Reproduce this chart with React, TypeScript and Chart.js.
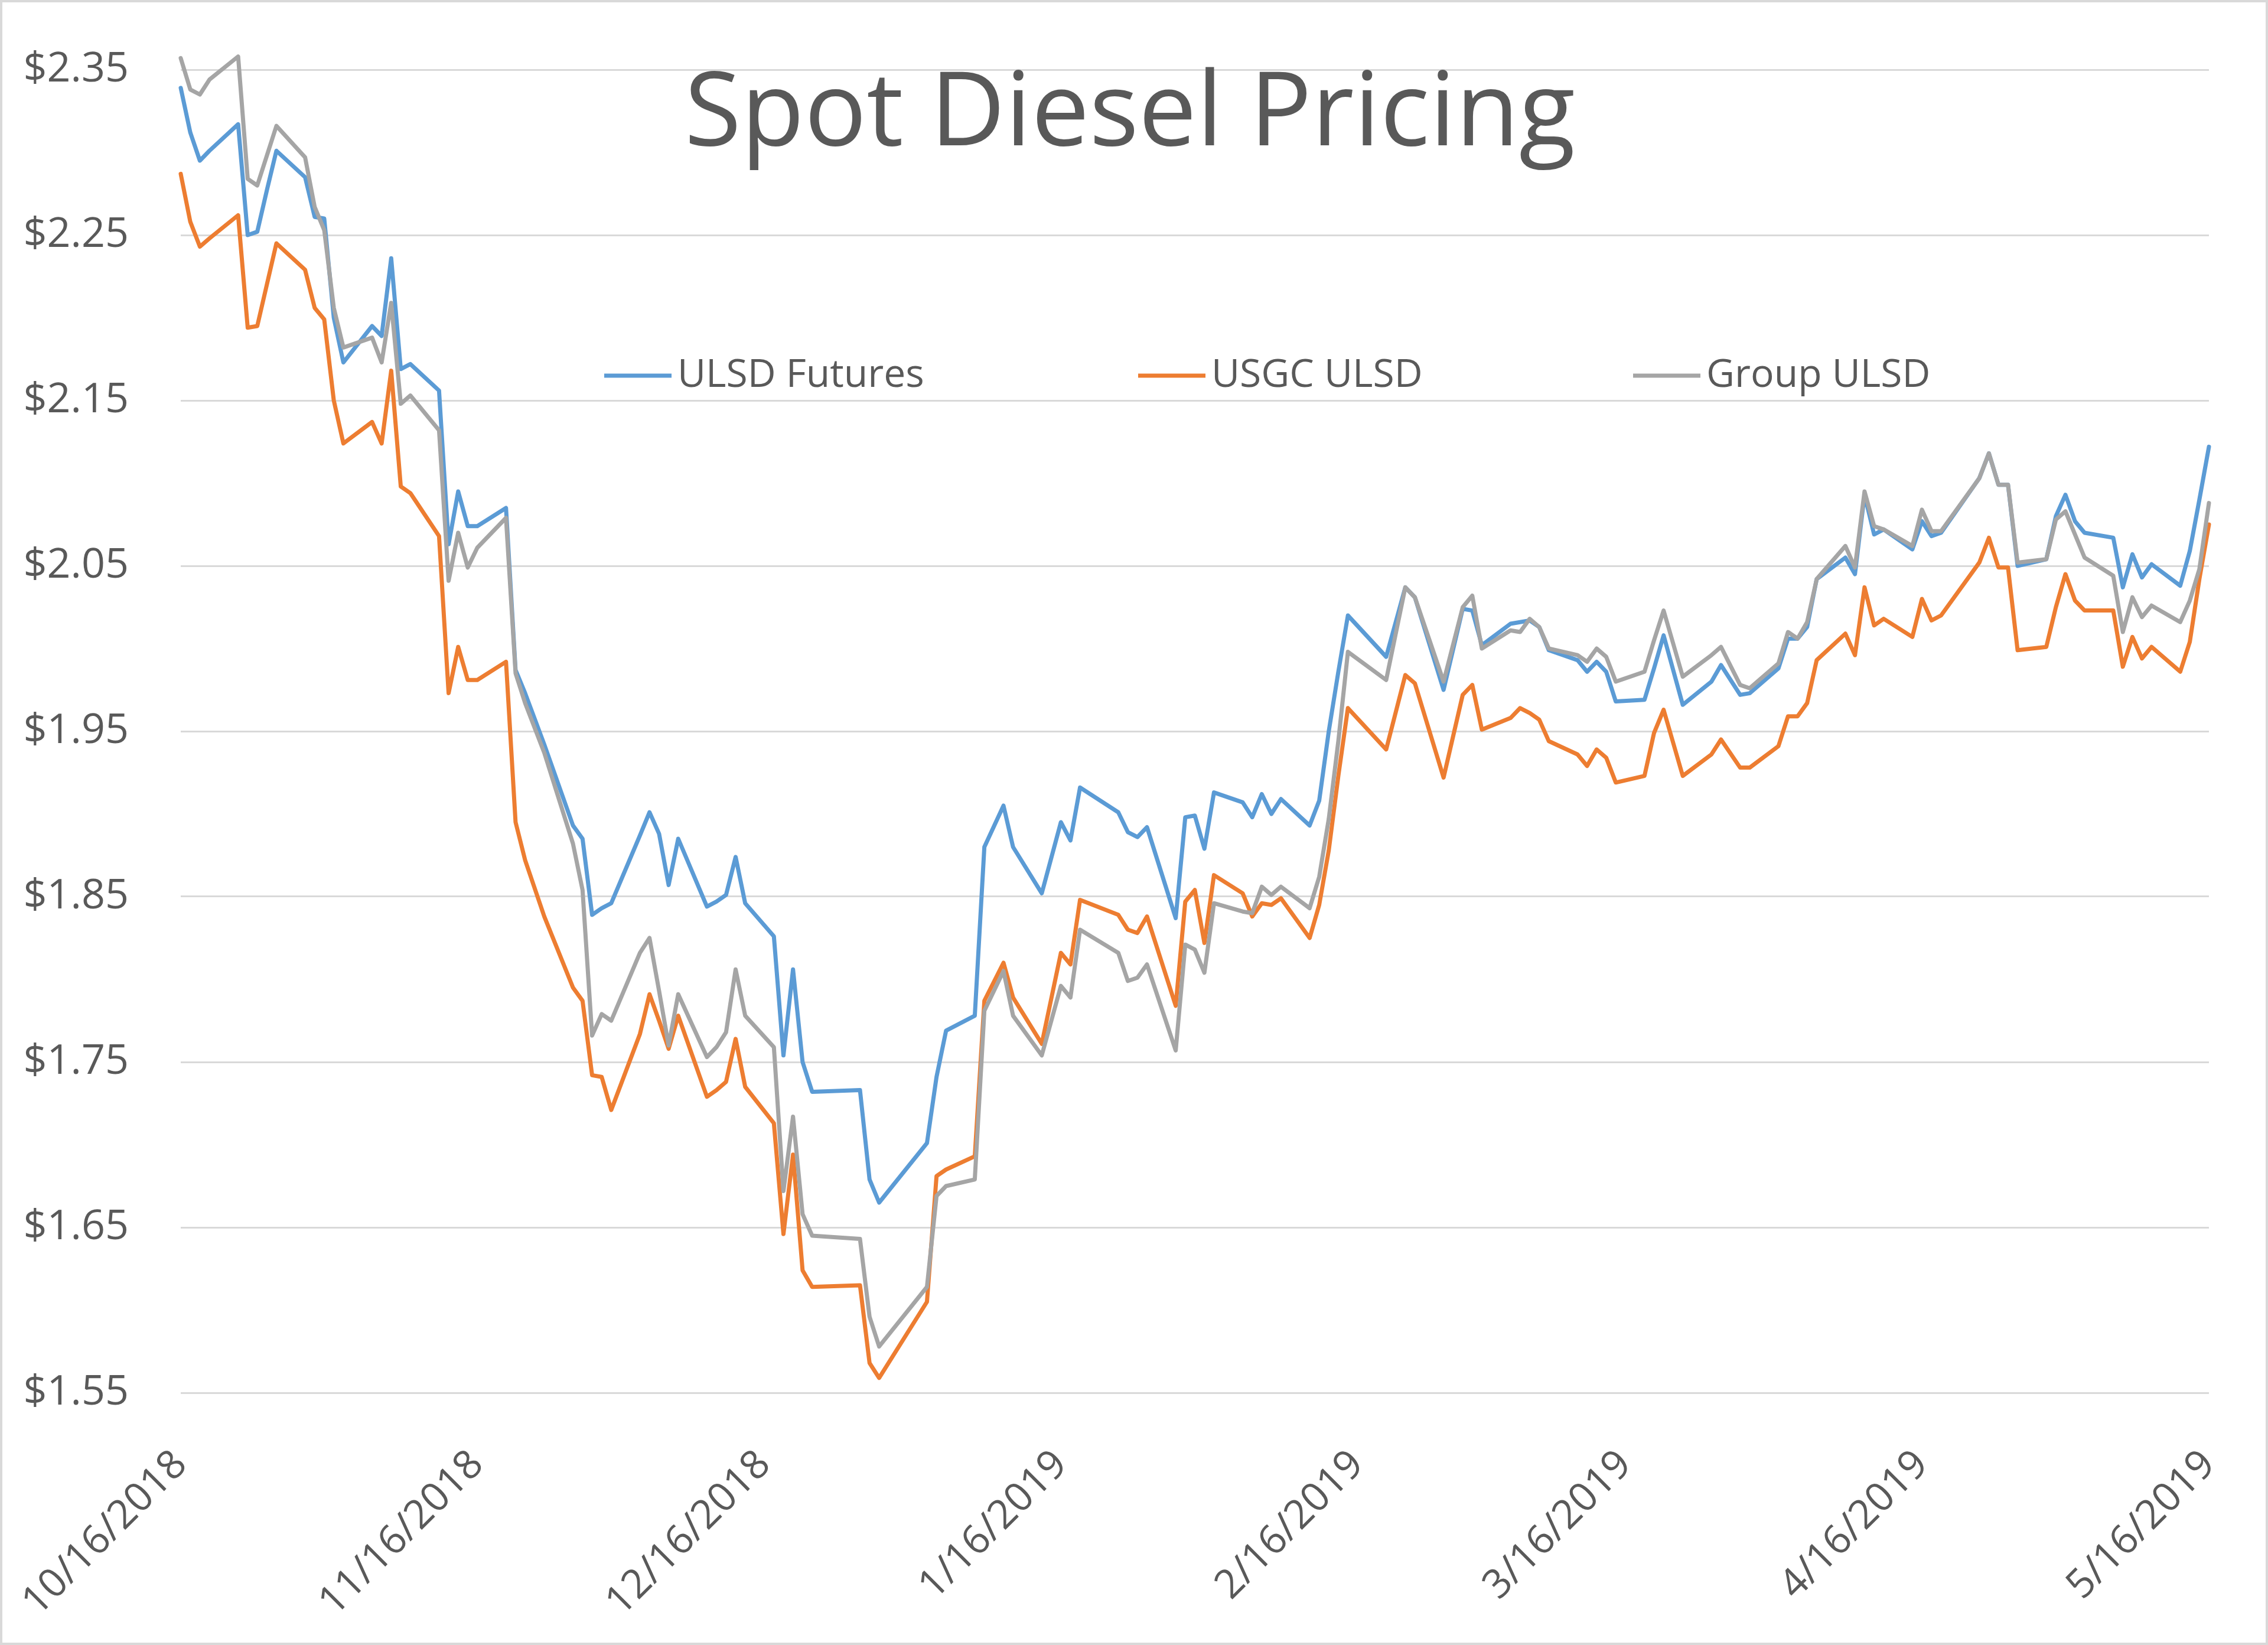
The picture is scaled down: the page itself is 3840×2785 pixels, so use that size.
import React, { useEffect, useRef } from "react";
import { Chart, registerables } from "chart.js";

Chart.register(...registerables);

const titleText = "Spot Diesel Pricing";
const seriesNames = ["ULSD Futures", "USGC ULSD", "Group ULSD"];
const seriesColors = ["#5B9BD5", "#ED7D31", "#A5A5A5"];
const xTickLabels = ["10/16/2018", "11/16/2018", "12/16/2018", "1/16/2019", "2/16/2019", "3/16/2019", "4/16/2019", "5/16/2019"];
const yTickValues = [1.55, 1.65, 1.75, 1.85, 1.95, 2.05, 2.15, 2.25, 2.35];

const dates = [
  "10/16/2018", "10/17/2018", "10/18/2018", "10/19/2018", "10/22/2018", "10/23/2018", "10/24/2018", "10/25/2018", "10/26/2018", "10/29/2018", "10/30/2018", "10/31/2018",
  "11/1/2018", "11/2/2018", "11/5/2018", "11/6/2018", "11/7/2018", "11/8/2018", "11/9/2018", "11/12/2018", "11/13/2018", "11/14/2018", "11/15/2018", "11/16/2018", "11/19/2018", "11/20/2018", "11/21/2018", "11/23/2018", "11/26/2018", "11/27/2018", "11/28/2018", "11/29/2018", "11/30/2018",
  "12/3/2018", "12/4/2018", "12/5/2018", "12/6/2018", "12/7/2018", "12/10/2018", "12/11/2018", "12/12/2018", "12/13/2018", "12/14/2018", "12/17/2018", "12/18/2018", "12/19/2018", "12/20/2018", "12/21/2018", "12/26/2018", "12/27/2018", "12/28/2018",
  "1/2/2019", "1/3/2019", "1/4/2019", "1/7/2019", "1/8/2019", "1/10/2019", "1/11/2019", "1/14/2019", "1/16/2019", "1/17/2019", "1/18/2019", "1/22/2019", "1/23/2019", "1/24/2019", "1/25/2019", "1/28/2019", "1/29/2019", "1/30/2019", "1/31/2019",
  "2/1/2019", "2/4/2019", "2/5/2019", "2/6/2019", "2/7/2019", "2/8/2019", "2/11/2019", "2/12/2019", "2/13/2019", "2/14/2019", "2/15/2019", "2/19/2019", "2/21/2019", "2/22/2019", "2/25/2019", "2/27/2019", "2/28/2019",
  "3/1/2019", "3/4/2019", "3/5/2019", "3/6/2019", "3/7/2019", "3/8/2019", "3/11/2019", "3/12/2019", "3/13/2019", "3/14/2019", "3/15/2019", "3/18/2019", "3/19/2019", "3/20/2019", "3/22/2019", "3/25/2019", "3/26/2019", "3/28/2019", "3/29/2019",
  "4/1/2019", "4/2/2019", "4/3/2019", "4/4/2019", "4/5/2019", "4/8/2019", "4/9/2019", "4/10/2019", "4/11/2019", "4/12/2019", "4/15/2019", "4/16/2019", "4/17/2019", "4/18/2019", "4/22/2019", "4/23/2019", "4/24/2019", "4/25/2019", "4/26/2019", "4/29/2019", "4/30/2019",
  "5/1/2019", "5/2/2019", "5/3/2019", "5/6/2019", "5/7/2019", "5/8/2019", "5/9/2019", "5/10/2019", "5/13/2019", "5/14/2019", "5/15/2019", "5/16/2019",
];

const ulsdFutures = [
  2.339, 2.312, 2.295, 2.301, 2.317, 2.250, 2.252, 2.277, 2.301, 2.285, 2.261, 2.260,
  2.200, 2.173, 2.195, 2.189, 2.236, 2.169, 2.172, 2.156, 2.063, 2.095, 2.074, 2.074, 2.085, 1.987, 1.973, 1.942, 1.893, 1.885, 1.839, 1.843, 1.846,
  1.887, 1.901, 1.888, 1.857, 1.885, 1.844, 1.847, 1.851, 1.874, 1.846, 1.826, 1.754, 1.806, 1.750, 1.732, 1.733, 1.679, 1.665,
  1.701, 1.741, 1.769, 1.778, 1.880, 1.905, 1.880, 1.852, 1.895, 1.884, 1.916, 1.901, 1.889, 1.886, 1.892, 1.837, 1.898, 1.899, 1.879,
  1.913, 1.907, 1.898, 1.912, 1.900, 1.909, 1.893, 1.908, 1.950, 1.986, 2.020, 1.995, 2.037, 2.031, 1.975, 2.024, 2.023,
  2.002, 2.015, 2.016, 2.017, 2.013, 1.999, 1.993, 1.986, 1.992, 1.986, 1.968, 1.969, 1.988, 2.008, 1.966, 1.980, 1.990, 1.972, 1.973,
  1.988, 2.006, 2.006, 2.013, 2.042, 2.055, 2.045, 2.093, 2.069, 2.072, 2.060, 2.077, 2.068, 2.070, 2.103, 2.118, 2.099, 2.099, 2.050, 2.054, 2.080,
  2.093, 2.077, 2.070, 2.067, 2.037, 2.057, 2.043, 2.051, 2.038, 2.059, 2.090, 2.122,
];

const usgcUlsd = [
  2.287, 2.258, 2.243, 2.248, 2.262, 2.194, 2.195, 2.220, 2.245, 2.229, 2.206, 2.199,
  2.150, 2.124, 2.137, 2.124, 2.168, 2.098, 2.094, 2.068, 1.973, 2.001, 1.981, 1.981, 1.992, 1.895, 1.872, 1.838, 1.795, 1.787, 1.742, 1.741, 1.721,
  1.767, 1.791, 1.775, 1.758, 1.778, 1.729, 1.733, 1.738, 1.764, 1.735, 1.713, 1.646, 1.694, 1.624, 1.614, 1.615, 1.568, 1.559,
  1.605, 1.681, 1.685, 1.693, 1.787, 1.810, 1.789, 1.761, 1.816, 1.809, 1.848, 1.839, 1.830, 1.828, 1.838, 1.784, 1.847, 1.854, 1.822,
  1.863, 1.852, 1.838, 1.846, 1.845, 1.849, 1.825, 1.845, 1.878, 1.923, 1.964, 1.939, 1.984, 1.979, 1.922, 1.972, 1.978,
  1.951, 1.958, 1.964, 1.961, 1.957, 1.944, 1.936, 1.929, 1.939, 1.934, 1.919, 1.923, 1.949, 1.963, 1.923, 1.936, 1.945, 1.928, 1.928,
  1.941, 1.959, 1.959, 1.967, 1.993, 2.009, 1.996, 2.037, 2.014, 2.018, 2.007, 2.030, 2.017, 2.020, 2.052, 2.067, 2.049, 2.049, 1.999, 2.001, 2.025,
  2.045, 2.029, 2.023, 2.023, 1.989, 2.007, 1.994, 2.001, 1.986, 2.004, 2.042, 2.075,
];

const groupUlsd = [
  2.357, 2.338, 2.335, 2.344, 2.358, 2.284, 2.280, 2.298, 2.316, 2.297, 2.267, 2.253,
  2.206, 2.182, 2.188, 2.173, 2.209, 2.148, 2.153, 2.132, 2.041, 2.070, 2.049, 2.061, 2.079, 1.985, 1.967, 1.937, 1.882, 1.854, 1.766, 1.779, 1.775,
  1.816, 1.825, 1.793, 1.760, 1.791, 1.753, 1.759, 1.768, 1.806, 1.778, 1.759, 1.672, 1.717, 1.658, 1.645, 1.643, 1.596, 1.578,
  1.614, 1.669, 1.675, 1.679, 1.781, 1.805, 1.778, 1.754, 1.796, 1.789, 1.830, 1.816, 1.799, 1.801, 1.809, 1.757, 1.821, 1.818, 1.804,
  1.846, 1.841, 1.840, 1.856, 1.851, 1.856, 1.843, 1.862, 1.897, 1.944, 1.998, 1.981, 2.037, 2.031, 1.980, 2.025, 2.032,
  2.000, 2.011, 2.010, 2.018, 2.013, 2.000, 1.996, 1.992, 2.000, 1.995, 1.980, 1.986, 2.005, 2.023, 1.983, 1.996, 2.001, 1.978, 1.976,
  1.991, 2.010, 2.006, 2.016, 2.042, 2.062, 2.049, 2.095, 2.074, 2.072, 2.062, 2.084, 2.071, 2.071, 2.103, 2.118, 2.099, 2.099, 2.052, 2.054, 2.078,
  2.083, 2.069, 2.055, 2.044, 2.010, 2.031, 2.019, 2.026, 2.016, 2.029, 2.048, 2.088,
];

const W = 3840;
const H = 2785;
const TEXT = "#595959";
const FONT = "'Open Sans', 'Liberation Sans', sans-serif";

function utcOf(s: string): number {
  const [m, d, y] = s.split("/").map(Number);
  return Date.UTC(y, m - 1, d);
}
const baseUtc = utcOf(xTickLabels[0]);
function dayOf(s: string): number {
  return Math.round((utcOf(s) - baseUtc) / 86400000);
}

const decorPlugin = {
  id: "decor",
  beforeDraw(chart: any) {
    const ctx = chart.ctx;
    ctx.save();
    ctx.fillStyle = "#ffffff";
    ctx.fillRect(0, 0, chart.width, chart.height);
    ctx.restore();
  },
  afterDraw(chart: any) {
    const ctx = chart.ctx;
    ctx.save();
    ctx.strokeStyle = "#d9d9d9";
    ctx.lineWidth = 4;
    ctx.strokeRect(2, 2, chart.width - 4, chart.height - 4);

    ctx.fillStyle = TEXT;
    ctx.font = `175px ${FONT}`;
    ctx.textAlign = "center";
    ctx.textBaseline = "alphabetic";
    ctx.fillText(titleText, 1913, 246);

    const starts = [1023, 1927, 2765];
    const y = 636;
    chart.data.datasets.forEach((ds: any, i: number) => {
      const x = starts[i];
      ctx.strokeStyle = ds.borderColor;
      ctx.lineWidth = 7;
      ctx.lineCap = "butt";
      ctx.beginPath();
      ctx.moveTo(x, y);
      ctx.lineTo(x + 114, y);
      ctx.stroke();
      ctx.fillStyle = TEXT;
      ctx.font = `66px ${FONT}`;
      ctx.textAlign = "left";
      ctx.textBaseline = "middle";
      ctx.fillText(ds.label, x + 124, y);
    });
    ctx.restore();
  },
};

export default function App() {
  const ref = useRef<HTMLCanvasElement | null>(null);

  useEffect(() => {
    document.body.style.margin = "0";
    document.body.style.overflow = "hidden";
    const canvas = ref.current;
    if (!canvas) return;
    const seriesValues = [ulsdFutures, usgcUlsd, groupUlsd];
    const xDays = dates.map(dayOf);
    const tickDays = xTickLabels.map(dayOf);
    const datasets = seriesNames.map((name, i) => ({
      label: name,
      data: seriesValues[i].map((v, j) => ({ x: xDays[j], y: v })),
      borderColor: seriesColors[i],
      backgroundColor: seriesColors[i],
      borderWidth: 7,
      pointRadius: 0,
      tension: 0,
      fill: false,
      clip: false as any,
      borderJoinStyle: "round" as const,
      borderCapStyle: "round" as const,
      order: 3 - i,
    }));

    const chart = new Chart(canvas, {
      type: "line",
      data: { datasets },
      options: {
        animation: false,
        responsive: false,
        devicePixelRatio: 1,
        layout: { padding: { left: 0, right: 100, top: 62, bottom: 0 } },
        plugins: {
          legend: { display: false },
          title: { display: false },
          tooltip: { enabled: false },
        },
        scales: {
          x: {
            type: "linear",
            min: tickDays[0],
            max: tickDays[tickDays.length - 1],
            grid: { display: false, drawTicks: false },
            border: { display: false },
            afterBuildTicks: (scale: any) => {
              scale.ticks = tickDays.map((v) => ({ value: v }));
            },
            afterFit: (scale: any) => {
              scale.height = 427;
              scale.paddingLeft = 0;
              scale.paddingRight = 0;
              scale.paddingTop = 0;
              scale.paddingBottom = 0;
            },
            ticks: {
              autoSkip: false,
              minRotation: 45,
              maxRotation: 45,
              padding: 82,
              color: TEXT,
              font: { family: FONT, size: 68 },
              callback: (value: any) => {
                const idx = tickDays.indexOf(Number(value));
                return idx >= 0 ? xTickLabels[idx] : "";
              },
            },
          },
          y: {
            type: "linear",
            min: yTickValues[0],
            max: 2.37,
            grid: { color: "#d9d9d9", lineWidth: 3, drawTicks: false },
            border: { display: false },
            afterBuildTicks: (scale: any) => {
              scale.ticks = yTickValues.map((v) => ({ value: v }));
            },
            afterFit: (scale: any) => {
              scale.width = 306;
              scale.paddingLeft = 0;
              scale.paddingRight = 0;
              scale.paddingTop = 0;
              scale.paddingBottom = 0;
            },
            ticks: {
              padding: 88,
              color: TEXT,
              font: { family: FONT, size: 70 },
              callback: (value: any) => "$" + Number(value).toFixed(2),
            },
          },
        },
      },
      plugins: [decorPlugin],
    });
    return () => chart.destroy();
  }, []);

  return (
    <canvas
      ref={ref}
      width={W}
      height={H}
      style={{ display: "block", width: W + "px", height: H + "px" }}
    />
  );
}
